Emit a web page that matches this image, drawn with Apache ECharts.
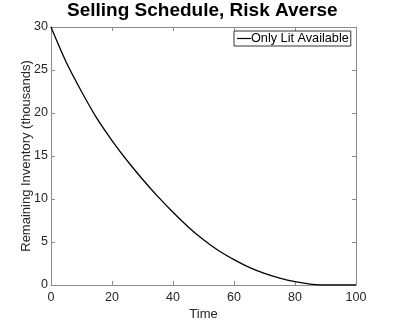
<!DOCTYPE html>
<html>
<head>
<meta charset="utf-8">
<title>Selling Schedule, Risk Averse</title>
<script src="https://cdn.jsdelivr.net/npm/echarts@6/dist/echarts.min.js"></script>
<style>
    html, body { margin: 0; padding: 0; background: #fff; }
    #main { width: 393px; height: 326px; }
</style>
</head>
<body>
<div id="main"></div>
<script type="text/javascript">
    // values (time, remaining inventory in thousands)
    var times = [0, 5, 10, 15, 20, 25, 30, 35, 40, 45, 50, 55, 60, 65, 70, 75, 80, 85, 88, 90, 95, 100];
    var remaining = [30, 25.9, 22.5, 19.4, 16.8, 14.45, 12.3, 10.3, 8.45, 6.75, 5.25, 3.98, 2.95, 2.05, 1.35, 0.8, 0.38, 0.09, 0, 0, 0, 0];
    var xTicks = [0, 20, 40, 60, 80, 100];
    var yTicks = [0, 5, 10, 15, 20, 25, 30];

    var points = [];
    for (var i = 0; i < times.length; i++) {
        points.push([times[i], remaining[i]]);
    }

    var font = 'Liberation Sans';
    var axisGray = '#8c8c8c';

    // box axes (top / right) only carry ticks
    function boxAxis(extra) {
        var a = {
            type: 'value',
            axisLine: { show: true, onZero: false, lineStyle: { color: axisGray } },
            axisTick: { show: true, inside: true, length: 4, lineStyle: { color: axisGray } },
            axisLabel: { show: false },
            splitLine: { show: false }
        };
        for (var k in extra) a[k] = extra[k];
        return a;
    }

    var myChart = echarts.init(document.getElementById('main'));
    myChart.setOption({
        animation: false,
        backgroundColor: '#fff',
        title: {
            text: 'Selling Schedule, Risk Averse',
            left: 67,
            top: 1,
            padding: 0,
            textStyle: { fontFamily: font, fontSize: 19, fontWeight: 'bold', color: '#000' }
        },
        legend: {
            data: ['Only Lit Available'],
            left: 234,
            top: 31,
            icon: 'rect',
            itemWidth: 14,
            itemHeight: 1.2,
            padding: [1, 2, 1, 3],
            borderColor: '#333',
            borderWidth: 1,
            backgroundColor: '#fff',
            textStyle: { fontFamily: font, fontSize: 12.7, color: '#000', padding: [0, 0, 0, -5] }
        },
        grid: { left: 51, right: 37, top: 27, bottom: 37 },
        xAxis: [{
            type: 'value',
            min: xTicks[0],
            max: xTicks[xTicks.length - 1],
            interval: 20,
            name: 'Time',
            nameLocation: 'middle',
            nameMoveOverlap: false,
            nameGap: 23,
            nameTextStyle: { fontFamily: font, fontSize: 13, color: '#262626' },
            axisLine: { onZero: false, lineStyle: { color: axisGray } },
            axisTick: { inside: true, length: 4, lineStyle: { color: axisGray } },
            axisLabel: { fontFamily: font, fontSize: 12.5, color: '#262626', margin: 6 },
            splitLine: { show: false }
        }, boxAxis({
            position: 'top',
            min: xTicks[0],
            max: xTicks[xTicks.length - 1],
            interval: 20
        })],
        yAxis: [{
            type: 'value',
            min: yTicks[0],
            max: yTicks[yTicks.length - 1],
            interval: 5,
            name: 'Remaining Inventory (thousands)',
            nameLocation: 'middle',
            nameMoveOverlap: false,
            nameGap: 18,
            nameTextStyle: { fontFamily: font, fontSize: 13, color: '#262626' },
            axisLine: { show: true, onZero: false, lineStyle: { color: axisGray } },
            axisTick: { show: true, inside: true, length: 4, lineStyle: { color: axisGray } },
            axisLabel: { fontFamily: font, fontSize: 12.5, color: '#262626', margin: 3 },
            splitLine: { show: false }
        }, boxAxis({
            position: 'right',
            min: yTicks[0],
            max: yTicks[yTicks.length - 1],
            interval: 5
        })],
        series: [{
            name: 'Only Lit Available',
            type: 'line',
            data: points,
            showSymbol: false,
            smooth: 0.3,
            color: '#000',
            lineStyle: { color: '#000', width: 1.3 }
        }]
    });
</script>
</body>
</html>
